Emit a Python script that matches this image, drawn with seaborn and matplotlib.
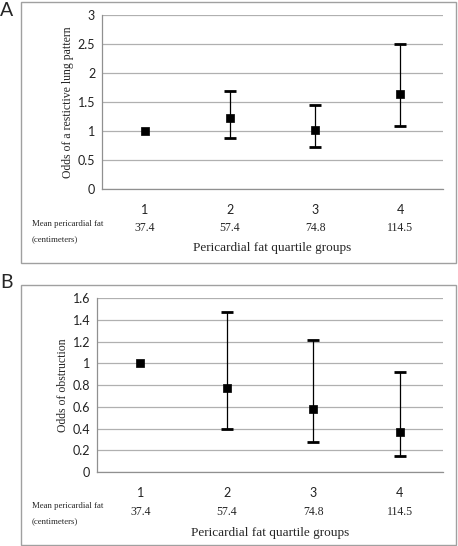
import matplotlib
matplotlib.use("Agg")
import matplotlib.pyplot as plt
import matplotlib.patches as mpatches
import pandas as pd
import seaborn as sns

# Quartile groups and mean pericardial fat values
groups = ["1", "2", "3", "4"]
mean_fat = ["37.4", "57.4", "74.8", "114.5"]

# Panel A: odds of a restrictive lung pattern (point, lower CI, upper CI)
odds_a = [1.0, 1.22, 1.02, 1.64]
low_a = [1.0, 0.88, 0.72, 1.08]
high_a = [1.0, 1.69, 1.44, 2.50]

# Panel B: odds of obstruction
odds_b = [1.0, 0.77, 0.58, 0.37]
low_b = [1.0, 0.40, 0.28, 0.15]
high_b = [1.0, 1.47, 1.21, 0.92]

sns.set_style("white")
SERIF = ["Liberation Serif", "DejaVu Serif"]
SANS = ["Lato", "DejaVu Sans"]

fig = plt.figure(figsize=(4.58, 5.46), dpi=100)


def draw_panel(ax, odds, low, high, ylim, ystep, ylabel, val_y, lab_y, ylab_x):
    df = pd.DataFrame({"group": groups, "odds": odds, "low": low, "high": high})
    # error bars (skip reference group with no interval)
    for i, row in df.iterrows():
        if row["high"] > row["low"]:
            ax.errorbar(i, row["odds"],
                        yerr=[[row["odds"] - row["low"]], [row["high"] - row["odds"]]],
                        fmt="none", ecolor="black", elinewidth=0.9,
                        capsize=4, capthick=2, zorder=3)
    sns.scatterplot(data=df, x="group", y="odds", marker="s", s=40,
                    color="black", edgecolor="black", ax=ax, zorder=4, legend=False)

    ax.set_xlim(-0.5, 3.5)
    ax.set_ylim(*ylim)
    ticks = [round(ylim[0] + k * ystep, 2) for k in range(int(round((ylim[1] - ylim[0]) / ystep)) + 1)]
    ax.set_yticks(ticks)
    ax.set_yticklabels([f"{t:g}" for t in ticks], fontsize=9, family=SANS, color="#222222")
    ax.yaxis.grid(True, color="#b0b0b0", linewidth=0.9)
    ax.set_axisbelow(True)

    ax.set_xticks(range(4))
    ax.set_xticklabels(groups, fontsize=9, family=SANS, color="#222222")
    ax.set_xticks([-0.5, 0.5, 1.5, 2.5, 3.5], minor=True)
    ax.tick_params(axis="x", which="major", length=0, pad=11)
    ax.tick_params(axis="x", which="minor", length=4, color="#909090", direction="out")
    ax.tick_params(axis="y", length=0, pad=5)

    for side in ["top", "right"]:
        ax.spines[side].set_visible(False)
    for side in ["left", "bottom"]:
        ax.spines[side].set_color("#909090")
        ax.spines[side].set_linewidth(0.9)

    ax.set_xlabel("")
    ax.set_ylabel("")
    ax.text(ylab_x, 0.5, ylabel, transform=ax.transAxes, rotation=90,
            ha="center", va="center", fontsize=8.5, family=SERIF)

    trans = ax.get_xaxis_transform()
    for i, v in enumerate(mean_fat):
        ax.text(i, val_y, v, transform=trans, ha="center", va="center",
                fontsize=8.5, family=SERIF)
    ax.text(1.5, lab_y, "Pericardial fat quartile groups", transform=trans,
            ha="center", va="center", fontsize=9.5, family=SERIF)


# Panel A
ax_a = fig.add_axes([0.223, 0.654, 0.744, 0.319])
draw_panel(ax_a, odds_a, low_a, high_a, (0, 3), 0.5,
           "Odds of a restictive lung pattern", -0.225, -0.34, -0.10)
fig.text(0.070, 1 - 224 / 546, "Mean pericardial fat", fontsize=6.3,
         family=SERIF, ha="left", va="center")
fig.text(0.070, 1 - 239 / 546, "(centimeters)", fontsize=6.3,
         family=SERIF, ha="left", va="center")
fig.text(0.0, 1 - 10 / 546, "A", fontsize=14, family=SANS, ha="left", va="center")
fig.patches.append(mpatches.Rectangle((21 / 458, 1 - 263 / 546), 435 / 458, 261 / 546,
                                      transform=fig.transFigure, fill=False,
                                      edgecolor="#a0a0a0", linewidth=1.0))

# Panel B
ax_b = fig.add_axes([0.212, 0.1355, 0.755, 0.3187])
draw_panel(ax_b, odds_b, low_b, high_b, (0, 1.6), 0.2,
           "Odds of obstruction", -0.23, -0.35, -0.10)
fig.text(0.070, 1 - 506 / 546, "Mean pericardial fat", fontsize=6.3,
         family=SERIF, ha="left", va="center")
fig.text(0.070, 1 - 521 / 546, "(centimeters)", fontsize=6.3,
         family=SERIF, ha="left", va="center")
fig.text(0.0, 1 - 283 / 546, "B", fontsize=14, family=SANS, ha="left", va="center")
fig.patches.append(mpatches.Rectangle((21 / 458, 1 - 545 / 546), 435 / 458, 260 / 546,
                                      transform=fig.transFigure, fill=False,
                                      edgecolor="#a0a0a0", linewidth=1.0))

fig.savefig("out.png", dpi=100)
